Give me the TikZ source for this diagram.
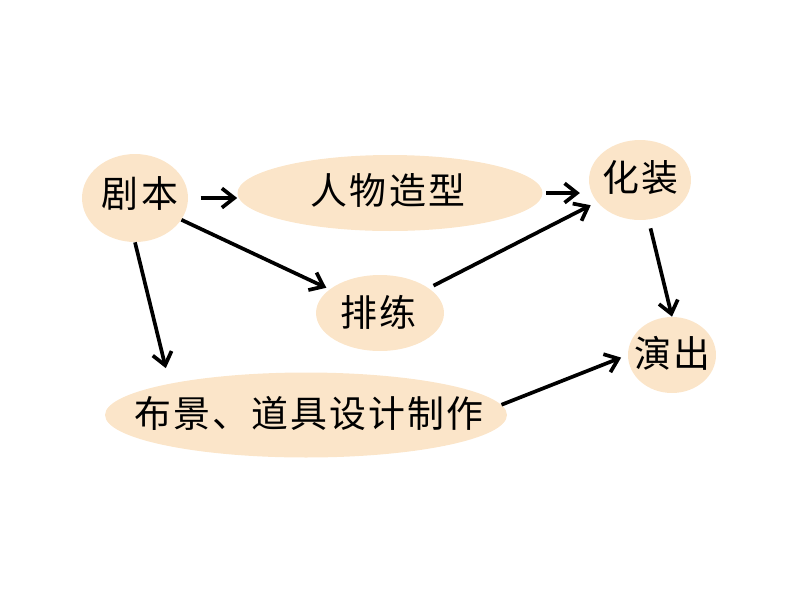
\documentclass[tikz,border=0pt]{standalone}
\usepackage{fontspec}
\newfontfamily\cjk[LetterSpace=6]{Noto Sans CJK SC}
\usetikzlibrary{shapes.geometric,arrows.meta,calc}
\definecolor{PeachFill}{RGB}{251,229,201}
\tikzset{
  blob/.style={ellipse,fill=PeachFill,draw=none,inner sep=0pt},
  word/.style={font=\cjk\fontsize{21}{25}\selectfont,inner sep=0pt},
  flow/.style={draw=black,line width=2.1pt,-{Straight Barb[length=7pt,width=11pt,line width=2.1pt]}},
}

\begin{document}
\begin{tikzpicture}[x=0.02cm,y=-0.02cm]
\useasboundingbox (0,0) rectangle (794,596);
\node[blob,minimum width=2.12cm,minimum height=1.76cm](jb) at (135,198){};\node[word](jbt) at (140,194){剧本};
\node[blob,minimum width=6.1cm,minimum height=1.52cm](rw) at (390,193){};\node[word](rwt) at (388,190){人物造型};
\node[blob,minimum width=2.04cm,minimum height=1.6cm](hz) at (640,180){};\node[word](hzt) at (640,178){化装};
\node[blob,minimum width=2.56cm,minimum height=1.52cm](pl) at (380,313){};\node[word](plt) at (378,312){排练};
\node[blob,minimum width=1.76cm,minimum height=1.52cm](yc) at (672,355){};\node[word](yct) at (672,353){演出};
\node[blob,minimum width=8.04cm,minimum height=1.7cm](bj) at (306,415){};\node[word](bjt) at (309,413){布景、道具设计制作};
\draw[flow,shorten <=7pt] (jb.east) -- (jb.east -| rw.west);
\draw[flow,shorten <=2pt,shorten >=5pt] (rw.east) -- (rw.east -| hz.west);
\draw[flow,shorten >=2pt] (jb) -- (pl);
\draw[flow,shorten >=9pt] (jb.south) -- (bj.167);
\draw[flow,shorten <=3pt,shorten >=4pt] (pl) -- (hz);
\draw[flow,shorten <=5pt] (hz.-78) -- (yc.north);
\draw[flow,shorten >=4pt] (bj.3) -- (yc.west);
\end{tikzpicture}
\end{document}
